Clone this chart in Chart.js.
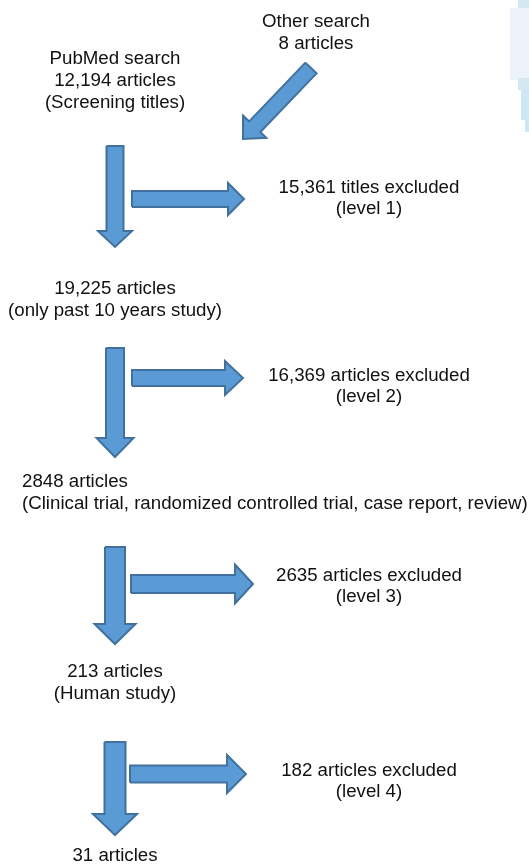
<!DOCTYPE html>
<html>
<head>
<meta charset="utf-8">
<script src="https://cdn.jsdelivr.net/npm/chart.js@4/dist/chart.umd.min.js"></script>
<style>
  html, body { margin: 0; padding: 0; background: #fff; }
  canvas { display: block; }
</style>
</head>
<body>
<canvas id="flow" width="529" height="865"></canvas>
<script>
// Textos del diagrama (datos)
const otherSearch = ['Other search', '8 articles'];
const stageTitles = ['PubMed search', '', '', '', ''];
const stageCounts = ['12,194 articles', '19,225 articles', '2848 articles', '213 articles', '31 articles'];
const stageNotes = ['(Screening titles)', '(only past 10 years study)',
  '(Clinical trial, randomized controlled trial, case report, review)', '(Human study)', ''];
const excludedCounts = ['15,361 titles excluded', '16,369 articles excluded', '2635 articles excluded', '182 articles excluded'];
const excludedLevels = ['(level 1)', '(level 2)', '(level 3)', '(level 4)'];

// Disposición (posiciones y tamaños en px, el eje usa 1 unidad = 1 px)
const W = 529, H = 865;
const colX = 115, exclX = 369;
const lineGap = 22;
const stageBase = [63.5, 294, 487, 677, 861];   // primera línea de cada bloque
const stageAlign = ['center', 'center', 'left', 'center', 'center'];
const stageLeft = 22;
const exclBase = [193, 381, 581, 776];
const otherBase = 27, otherX = 316;

// flechas verticales: [arriba, punta, ancho, ancho cabeza, largo cabeza]
const vArrows = [[146, 247, 17, 34, 16], [348, 457, 18, 37, 19], [547, 644, 20, 41, 20], [742, 835, 21, 44, 21]];
// flechas horizontales: [x inicio, x punta, y, ancho, ancho cabeza, largo cabeza]
const hArrows = [[132, 244, 199, 16, 32, 16], [132, 243, 378, 16, 34, 18], [131, 253, 584, 18, 39, 18], [130, 246, 774, 17, 38, 19]];
// flecha diagonal desde "Other search"
const dArrow = [311, 68, 243, 139, 15.5, 32, 17];

const fillColor = '#5b9bd5';
const edgeColor = '#41719c';

// Polígono de una flecha de bloque entre cola y punta
function arrowPoly(x0, y0, x1, y1, sw, hw, hl) {
  const dx = x1 - x0, dy = y1 - y0;
  const len = Math.hypot(dx, dy);
  const ux = dx / len, uy = dy / len;
  const nx = -uy, ny = ux;
  const bx = x1 - ux * hl, by = y1 - uy * hl;
  const p = (x, y) => ({ x, y });
  const pts = [
    p(x0 + nx * sw / 2, y0 + ny * sw / 2),
    p(bx + nx * sw / 2, by + ny * sw / 2),
    p(bx + nx * hw / 2, by + ny * hw / 2),
    p(x1, y1),
    p(bx - nx * hw / 2, by - ny * hw / 2),
    p(bx - nx * sw / 2, by - ny * sw / 2),
    p(x0 - nx * sw / 2, y0 - ny * sw / 2)
  ];
  pts.push(pts[0]);
  return pts;
}

const arrowSet = (pts) => ({
  data: pts,
  showLine: true,
  fill: 'shape',
  tension: 0,
  backgroundColor: fillColor,
  borderColor: edgeColor,
  borderWidth: 2,
  borderJoinStyle: 'miter',
  pointRadius: 0
});

const datasets = [];
datasets.push(arrowSet(arrowPoly(...dArrow)));
vArrows.forEach(([top, tip, sw, hw, hl]) => datasets.push(arrowSet(arrowPoly(colX, top, colX, tip, sw, hw, hl))));
hArrows.forEach(([x0, x1, y, sw, hw, hl]) => datasets.push(arrowSet(arrowPoly(x0, y, x1, y, sw, hw, hl))));

// Borde recortado de la imagen original (esquina superior derecha)
const edgePlugin = {
  id: 'cropEdge',
  beforeDatasetsDraw(chart) {
    const { ctx } = chart;
    ctx.save();
    ctx.fillStyle = '#edf3fa';
    ctx.fillRect(510, 8, 19, 72);
    ctx.fillStyle = '#d4e8f4';
    ctx.fillRect(518, 0, 11, 8);
    ctx.fillRect(518, 78, 11, 12);
    ctx.fillStyle = '#cfe6f3';
    ctx.fillRect(521, 90, 8, 30);
    ctx.fillRect(525, 120, 4, 12);
    ctx.restore();
  }
};

// Plugin para escribir los textos usando las escalas del gráfico
const textPlugin = {
  id: 'flowText',
  afterDatasetsDraw(chart) {
    const { ctx, scales: { x, y } } = chart;
    ctx.save();
    ctx.font = '18.7px "Liberation Sans", Arial, sans-serif';
    ctx.fillStyle = '#111';
    ctx.textBaseline = 'alphabetic';
    const put = (txt, px, py, align) => {
      if (!txt) return;
      ctx.textAlign = align || 'center';
      ctx.fillText(txt, x.getPixelForValue(px), y.getPixelForValue(py));
    };

    otherSearch.forEach((t, i) => put(t, otherX, otherBase + i * lineGap));

    stageCounts.forEach((count, i) => {
      const lines = [stageTitles[i], count, stageNotes[i]].filter(Boolean);
      const align = stageAlign[i];
      const px = align === 'left' ? stageLeft : colX;
      lines.forEach((t, j) => put(t, px, stageBase[i] + j * lineGap, align));
    });

    excludedCounts.forEach((t, i) => {
      put(t, exclX, exclBase[i]);
      put(excludedLevels[i], exclX, exclBase[i] + lineGap - 1);
    });
    ctx.restore();
  }
};

new Chart(document.getElementById('flow'), {
  type: 'scatter',
  data: { datasets },
  options: {
    responsive: false,
    animation: false,
    layout: { padding: 0 },
    plugins: { legend: { display: false }, tooltip: { enabled: false } },
    scales: {
      x: { type: 'linear', min: 0, max: W, display: false },
      y: { type: 'linear', min: 0, max: H, reverse: true, display: false }
    }
  },
  plugins: [edgePlugin, textPlugin]
});
</script>
</body>
</html>
